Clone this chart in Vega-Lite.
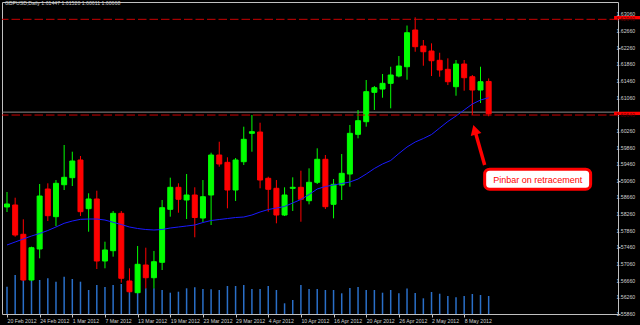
{
  "$schema": "https://vega.github.io/schema/vega-lite/v6.json",
  "width": 616,
  "height": 312,
  "autosize": {"type": "none"},
  "padding": {"left": 2, "top": 2, "right": 22, "bottom": 11},
  "background": "#000000",
  "config": {
    "view": {"stroke": "#c0c0c0", "strokeWidth": 1, "fill": "#000000"},
    "font": "Liberation Sans",
    "axis": {"labelColor": "#d0d0d0", "labelFontSize": 5.2, "labelFont": "Liberation Sans", "tickColor": "#c0c0c0", "domain": false, "grid": false, "title": null, "labelOverlap": false, "labelFlush": false}
  },
  "title": {"text": "GBPUSD,Daily  1.61447 1.61520 1.60611 1.60668", "anchor": "start", "frame": "group", "baseline": "top", "offset": -4, "dx": 3, "fontSize": 5.2, "fontWeight": "normal", "color": "#d0d0d0", "font": "Liberation Sans"},
  "datasets": {
    "bars": [
      {"i":0,"date":"2012-02-20","open":1.58431,"high":1.58791,"low":1.58310,"close":1.58503,"volume":1092,"ma":1.57518},
      {"i":1,"date":"2012-02-21","open":1.58479,"high":1.58654,"low":1.57717,"close":1.57758,"volume":1560,"ma":1.57590},
      {"i":2,"date":"2012-02-22","open":1.57775,"high":1.58135,"low":1.56653,"close":1.56677,"volume":1360,"ma":1.57662},
      {"i":3,"date":"2012-02-23","open":1.56677,"high":1.57477,"low":1.56653,"close":1.57453,"volume":1360,"ma":1.57734},
      {"i":4,"date":"2012-02-24","open":1.57422,"high":1.58983,"low":1.57198,"close":1.58695,"volume":1360,"ma":1.57794},
      {"i":5,"date":"2012-02-27","open":1.58863,"high":1.59000,"low":1.58094,"close":1.58222,"volume":1428,"ma":1.57866},
      {"i":6,"date":"2012-02-28","open":1.58198,"high":1.59079,"low":1.57974,"close":1.59000,"volume":1292,"ma":1.57950},
      {"i":7,"date":"2012-02-29","open":1.58966,"high":1.59920,"low":1.58839,"close":1.59144,"volume":1492,"ma":1.58039},
      {"i":8,"date":"2012-03-01","open":1.59135,"high":1.59759,"low":1.58935,"close":1.59536,"volume":1400,"ma":1.58094},
      {"i":9,"date":"2012-03-02","open":1.59560,"high":1.59656,"low":1.58214,"close":1.58318,"volume":1292,"ma":1.58135},
      {"i":10,"date":"2012-03-05","open":1.58390,"high":1.58760,"low":1.57837,"close":1.58623,"volume":960,"ma":1.58142},
      {"i":11,"date":"2012-03-06","open":1.58623,"high":1.58822,"low":1.56941,"close":1.57133,"volume":1160,"ma":1.58142},
      {"i":12,"date":"2012-03-07","open":1.57133,"high":1.57597,"low":1.56958,"close":1.57398,"volume":1080,"ma":1.58118},
      {"i":13,"date":"2012-03-08","open":1.57381,"high":1.58335,"low":1.57237,"close":1.58279,"volume":1160,"ma":1.58063},
      {"i":14,"date":"2012-03-09","open":1.58279,"high":1.58335,"low":1.56612,"close":1.56718,"volume":1200,"ma":1.58010},
      {"i":15,"date":"2012-03-12","open":1.56653,"high":1.56958,"low":1.56372,"close":1.56396,"volume":960,"ma":1.57950},
      {"i":16,"date":"2012-03-13","open":1.56372,"high":1.57494,"low":1.56357,"close":1.57054,"volume":1068,"ma":1.57914},
      {"i":17,"date":"2012-03-14","open":1.57037,"high":1.57453,"low":1.56477,"close":1.56732,"volume":1028,"ma":1.57890},
      {"i":18,"date":"2012-03-15","open":1.56732,"high":1.57374,"low":1.56477,"close":1.57116,"volume":1028,"ma":1.57878},
      {"i":19,"date":"2012-03-16","open":1.57102,"high":1.58599,"low":1.56917,"close":1.58414,"volume":960,"ma":1.57890},
      {"i":20,"date":"2012-03-19","open":1.58375,"high":1.59135,"low":1.58198,"close":1.58904,"volume":852,"ma":1.57926},
      {"i":21,"date":"2012-03-20","open":1.58904,"high":1.59000,"low":1.58294,"close":1.58616,"volume":892,"ma":1.57950},
      {"i":22,"date":"2012-03-21","open":1.58599,"high":1.59223,"low":1.58142,"close":1.58719,"volume":1028,"ma":1.57974},
      {"i":23,"date":"2012-03-22","open":1.58719,"high":1.58904,"low":1.57703,"close":1.58178,"volume":1068,"ma":1.57998},
      {"i":24,"date":"2012-03-23","open":1.58166,"high":1.59079,"low":1.58070,"close":1.58678,"volume":1000,"ma":1.58058},
      {"i":25,"date":"2012-03-26","open":1.58719,"high":1.59735,"low":1.57998,"close":1.59680,"volume":988,"ma":1.58106},
      {"i":26,"date":"2012-03-27","open":1.59680,"high":1.59999,"low":1.59399,"close":1.59464,"volume":960,"ma":1.58130},
      {"i":27,"date":"2012-03-28","open":1.59504,"high":1.59625,"low":1.58399,"close":1.58839,"volume":1120,"ma":1.58154},
      {"i":28,"date":"2012-03-29","open":1.58839,"high":1.59608,"low":1.58575,"close":1.59560,"volume":1120,"ma":1.58178},
      {"i":29,"date":"2012-03-30","open":1.59519,"high":1.60360,"low":1.59440,"close":1.60057,"volume":1160,"ma":1.58190},
      {"i":30,"date":"2012-04-02","open":1.60201,"high":1.60641,"low":1.59759,"close":1.60240,"volume":1000,"ma":1.58238},
      {"i":31,"date":"2012-04-03","open":1.60232,"high":1.60456,"low":1.58880,"close":1.59079,"volume":1000,"ma":1.58310},
      {"i":32,"date":"2012-04-04","open":1.59120,"high":1.59159,"low":1.58318,"close":1.58856,"volume":1120,"ma":1.58370},
      {"i":33,"date":"2012-04-05","open":1.58880,"high":1.59079,"low":1.58039,"close":1.58238,"volume":960,"ma":1.58406},
      {"i":34,"date":"2012-04-06","open":1.58238,"high":1.58904,"low":1.58214,"close":1.58719,"volume":428,"ma":1.58443},
      {"i":35,"date":"2012-04-09","open":1.58880,"high":1.59144,"low":1.58335,"close":1.58904,"volume":560,"ma":1.58527},
      {"i":36,"date":"2012-04-10","open":1.58904,"high":1.59303,"low":1.58077,"close":1.58616,"volume":1160,"ma":1.58611},
      {"i":37,"date":"2012-04-11","open":1.58582,"high":1.59360,"low":1.58495,"close":1.59024,"volume":1000,"ma":1.58731},
      {"i":38,"date":"2012-04-12","open":1.59024,"high":1.59841,"low":1.58983,"close":1.59577,"volume":1000,"ma":1.58863},
      {"i":39,"date":"2012-04-13","open":1.59577,"high":1.59680,"low":1.58383,"close":1.58438,"volume":960,"ma":1.58923},
      {"i":40,"date":"2012-04-16","open":1.58495,"high":1.59103,"low":1.58159,"close":1.58976,"volume":960,"ma":1.58959},
      {"i":41,"date":"2012-04-17","open":1.58959,"high":1.59704,"low":1.58599,"close":1.59240,"volume":828,"ma":1.58995},
      {"i":42,"date":"2012-04-18","open":1.59223,"high":1.60401,"low":1.58918,"close":1.60201,"volume":1040,"ma":1.59031},
      {"i":43,"date":"2012-04-19","open":1.60177,"high":1.60761,"low":1.60081,"close":1.60504,"volume":1080,"ma":1.59103},
      {"i":44,"date":"2012-04-20","open":1.60480,"high":1.61482,"low":1.60360,"close":1.61201,"volume":960,"ma":1.59223},
      {"i":45,"date":"2012-04-23","open":1.61186,"high":1.61338,"low":1.60761,"close":1.61297,"volume":960,"ma":1.59356},
      {"i":46,"date":"2012-04-24","open":1.61265,"high":1.61626,"low":1.61056,"close":1.61402,"volume":852,"ma":1.59464},
      {"i":47,"date":"2012-04-25","open":1.61402,"high":1.61801,"low":1.60802,"close":1.61602,"volume":960,"ma":1.59548},
      {"i":48,"date":"2012-04-26","open":1.61578,"high":1.62058,"low":1.61546,"close":1.61818,"volume":828,"ma":1.59716},
      {"i":49,"date":"2012-04-27","open":1.61801,"high":1.62791,"low":1.61489,"close":1.62618,"volume":1020,"ma":1.59872},
      {"i":50,"date":"2012-04-30","open":1.62683,"high":1.62988,"low":1.62161,"close":1.62282,"volume":840,"ma":1.59992},
      {"i":51,"date":"2012-05-01","open":1.62298,"high":1.62443,"low":1.61825,"close":1.62161,"volume":628,"ma":1.60076},
      {"i":52,"date":"2012-05-02","open":1.62178,"high":1.62363,"low":1.61578,"close":1.61945,"volume":880,"ma":1.60172},
      {"i":53,"date":"2012-05-03","open":1.61955,"high":1.62137,"low":1.61561,"close":1.61722,"volume":812,"ma":1.60329},
      {"i":54,"date":"2012-05-04","open":1.61739,"high":1.62003,"low":1.61361,"close":1.61441,"volume":720,"ma":1.60485},
      {"i":55,"date":"2012-05-07","open":1.61321,"high":1.61962,"low":1.61104,"close":1.61866,"volume":668,"ma":1.60617},
      {"i":56,"date":"2012-05-08","open":1.61866,"high":1.61962,"low":1.61225,"close":1.61537,"volume":720,"ma":1.60761},
      {"i":57,"date":"2012-05-09","open":1.61561,"high":1.61602,"low":1.60641,"close":1.61241,"volume":800,"ma":1.60905},
      {"i":58,"date":"2012-05-10","open":1.61241,"high":1.61801,"low":1.60929,"close":1.61441,"volume":760,"ma":1.61001},
      {"i":59,"date":"2012-05-11","open":1.61447,"high":1.61520,"low":1.60611,"close":1.60668,"volume":720,"ma":1.61056}
    ],
    "priceTicks": [
      {"price":1.5586},{"price":1.5626},{"price":1.5666},{"price":1.5706},{"price":1.5746},{"price":1.5786},
      {"price":1.5826},{"price":1.5866},{"price":1.5906},{"price":1.5946},{"price":1.5986},{"price":1.6026},
      {"price":1.6106},{"price":1.6146},{"price":1.6186},{"price":1.6226},{"price":1.6266},{"price":1.6306}
    ],
    "levels": [{"price": 1.6294}, {"price": 1.6064}],
    "bid": [{"price": 1.6071}],
    "arrow": [{"xa": 57.42, "pa": 1.60194, "xb": 58.51, "pb": 1.59440}],
    "arrowhead": [{"x": 57.12, "p": 1.60401}],
    "note": [{"x1": 58.51, "x2": 71.49, "p1": 1.59339, "p2": 1.58858, "xc": 65.0, "pc": 1.59091, "label": "Pinbar on retracement"}]
  },
  "layer": [
    {
      "data": {"name": "bars"},
      "mark": {"type": "rule", "color": "#2a6fc8", "strokeWidth": 1.5},
      "encoding": {
        "x": {"field": "i", "type": "quantitative",
              "scale": {"domain": [0, 74.23], "nice": false, "zero": false},
              "axis": {"orient": "bottom", "values": [0,4,8,12,16,20,24,28,32,36,40,44,48,52,56],
                       "labelExpr": "['20 Feb 2012','24 Feb 2012','1 Mar 2012','7 Mar 2012','13 Mar 2012','19 Mar 2012','23 Mar 2012','29 Mar 2012','4 Apr 2012','10 Apr 2012','16 Apr 2012','20 Apr 2012','26 Apr 2012','2 May 2012','8 May 2012'][round(datum.value/4)]",
                       "labelAlign": "left", "labelDx": 1, "labelPadding": 1, "tickSize": 3, "labelBaseline": "top"}},
        "y": {"field": "volume", "type": "quantitative", "scale": {"domain": [0, 12480], "nice": false, "zero": true}, "axis": null},
        "y2": {"datum": 0}
      }
    },
    {
      "layer": [
        {
          "data": {"name": "bid"},
          "mark": {"type": "rule", "color": "#8c8c8c", "strokeWidth": 1},
          "encoding": {
            "y": {"field": "price", "type": "quantitative",
                  "scale": {"domain": [1.5586, 1.63356], "nice": false, "zero": false},
                  "axis": {"orient": "right", "tickSize": 2, "labels": false,
                           "values": [1.5586,1.5626,1.5666,1.5706,1.5746,1.5786,1.5826,1.5866,1.5906,1.5946,1.5986,1.6026,1.6066,1.6106,1.6146,1.6186,1.6226,1.6266,1.6306]}}
          }
        },
        {
          "data": {"name": "priceTicks"},
          "mark": {"type": "text", "color": "#d0d0d0", "fontSize": 5.2, "align": "left", "baseline": "middle", "clip": false, "font": "Liberation Sans"},
          "encoding": {
            "x": {"datum": 74.65, "type": "quantitative"},
            "y": {"field": "price", "type": "quantitative"},
            "text": {"field": "price", "type": "quantitative", "format": ".5f"}
          }
        },
        {
          "data": {"name": "bars"},
          "mark": {"type": "rule", "strokeWidth": 1, "clip": true},
          "encoding": {
            "x": {"field": "i", "type": "quantitative"},
            "y": {"field": "high", "type": "quantitative"},
            "y2": {"field": "low"},
            "stroke": {"condition": {"test": "datum.close >= datum.open", "value": "#00ff00"}, "value": "#ff0000"}
          }
        },
        {
          "data": {"name": "bars"},
          "mark": {"type": "bar", "width": 5, "strokeWidth": 1, "clip": true},
          "encoding": {
            "x": {"field": "i", "type": "quantitative"},
            "y": {"field": "open", "type": "quantitative"},
            "y2": {"field": "close"},
            "fill": {"condition": {"test": "datum.close >= datum.open", "value": "#00ff00"}, "value": "#ff0000"},
            "stroke": {"condition": {"test": "datum.close >= datum.open", "value": "#00ff00"}, "value": "#ff0000"}
          }
        },
        {
          "data": {"name": "bars"},
          "mark": {"type": "line", "color": "#1a1aff", "strokeWidth": 1, "clip": true},
          "encoding": {
            "x": {"field": "i", "type": "quantitative"},
            "y": {"field": "ma", "type": "quantitative"}
          }
        },
        {
          "data": {"name": "levels"},
          "mark": {"type": "rule", "color": "#cc0000", "strokeWidth": 1, "strokeDash": [8.5, 3]},
          "encoding": {"y": {"field": "price", "type": "quantitative"}}
        },
        {
          "data": {"name": "levels"},
          "mark": {"type": "rect", "color": "#ff0000", "clip": false},
          "encoding": {
            "x": {"datum": 74.36, "type": "quantitative"},
            "x2": {"datum": 78},
            "y": {"field": "price", "type": "quantitative"},
            "yOffset": {"value": -3.3},
            "y2": {"field": "price"},
            "y2Offset": {"value": 3.3}
          }
        },
        {
          "data": {"name": "levels"},
          "mark": {"type": "text", "color": "#5a0000", "fontSize": 5.2, "align": "left", "baseline": "middle", "clip": false, "dx": 2, "font": "Liberation Sans"},
          "encoding": {
            "x": {"datum": 74.36, "type": "quantitative"},
            "y": {"field": "price", "type": "quantitative"},
            "text": {"field": "price", "type": "quantitative", "format": ".5f"}
          }
        },
        {
          "data": {"name": "arrow"},
          "mark": {"type": "rule", "color": "#ff0000", "strokeWidth": 3.5, "strokeCap": "butt"},
          "encoding": {
            "x": {"field": "xa", "type": "quantitative"},
            "x2": {"field": "xb"},
            "y": {"field": "pa", "type": "quantitative"},
            "y2": {"field": "pb"}
          }
        },
        {
          "data": {"name": "arrowhead"},
          "mark": {"type": "point", "shape": "M0,0L-1.1,2L1.1,2Z", "size": 100, "angle": 344, "filled": true, "color": "#ff0000", "opacity": 1},
          "encoding": {
            "x": {"field": "x", "type": "quantitative"},
            "y": {"field": "p", "type": "quantitative"}
          }
        },
        {
          "data": {"name": "note"},
          "mark": {"type": "rect", "fill": "#ffffff", "stroke": "#ff0000", "strokeWidth": 3, "cornerRadius": 5},
          "encoding": {
            "x": {"field": "x1", "type": "quantitative"},
            "x2": {"field": "x2"},
            "y": {"field": "p1", "type": "quantitative"},
            "y2": {"field": "p2"}
          }
        },
        {
          "data": {"name": "note"},
          "mark": {"type": "text", "color": "#ff0000", "fontSize": 9, "align": "center", "baseline": "middle", "font": "Liberation Sans"},
          "encoding": {
            "x": {"field": "xc", "type": "quantitative"},
            "y": {"field": "pc", "type": "quantitative"},
            "text": {"field": "label"}
          }
        }
      ]
    }
  ],
  "resolve": {"scale": {"y": "independent"}}
}
